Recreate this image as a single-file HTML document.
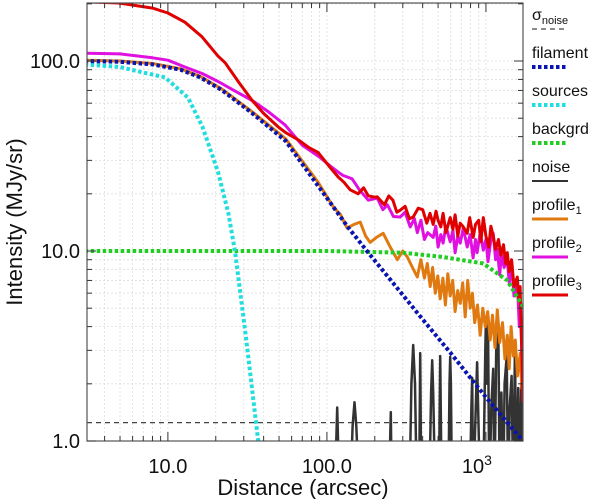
<!DOCTYPE html>
<html><head><meta charset="utf-8"><style>
body{margin:0;background:#fff;}
svg text{font-family:"Liberation Sans",sans-serif;fill:#111;}
</style></head><body>
<svg id="chart" width="600" height="499" viewBox="0 0 600 499" xmlns="http://www.w3.org/2000/svg">
<defs><clipPath id="clip"><rect x="87" y="3" width="436" height="438"/></clipPath></defs>
<g id="grid"></g>
<g id="series" clip-path="url(#clip)"></g>
<rect x="87" y="3" width="436" height="438" fill="none" stroke="#555" stroke-width="1.2"/>
<g id="ticks"></g>
<text x="303" y="495" font-size="22" text-anchor="middle">Distance (arcsec)</text>
<text transform="translate(22,222) rotate(-90)" text-anchor="middle" font-size="22">Intensity (MJy/sr)</text>
<g id="legend"></g>
</svg>
<script>
const sigmaNoise = 1.25;
const filR = [3,5,8,12,16,22,34,55,88,136,182,260,388,600,1000,1710];
const filV = [100,99,96,90,82,70,53,38,22,13.3,9.8,6.8,4.5,2.9,1.7,1.0];
const srcR = [3,5,7,9.6,13.4,16.5,20.7,24,26.5,31,37,40];
const srcV = [96,93,87,82,64,45,26,15.8,9.8,3.5,1.0,0.6];
const bgR = [3,100,300,538,962,1360,1710];
const bgV = [10,10,9.8,9.3,8.6,7.0,5.1];
const noiseR = [100,112,116,120,140,145,149,153,160,245,252,256,262,330,340,349,358,368,380,386,392,400,440,452,459,466,480,505,516,527,540,580,590,596,602,612,790,810,820,830,880,920,960,990,1000,1019,1030,1050,1080,1111,1130,1160,1195,1220,1250,1284,1310,1350,1381,1410,1450,1486,1520,1560,1596,1630,1670,1692,1710];
const noiseV = [0.5,0.5,1.5,0.5,0.5,1.2,1.6,1.2,0.5,0.5,1.42,0.5,0.5,0.5,2.0,3.2,2.0,0.5,0.5,2.9,0.5,0.5,0.5,1.8,2.66,1.8,0.5,0.5,2.8,0.5,0.5,0.5,2.0,2.77,2.0,0.5,0.5,1.5,2.15,0.5,2.6,0.5,0.5,3.0,4.3,2.0,4.5,0.5,1.5,2.4,0.5,3.0,4.2,0.5,1.8,0.5,2.0,2.8,0.5,1.5,2.2,0.5,3.0,0.5,1.9,0.5,2.4,0.5,1.3];
const p1R = [3,5,8,12,16,22,34,55,88,110,122,134,148,162,175,187,205,226,250,277,300,320,345,370,390,410,428,446,462,480,498,516,536,556,576,596,618,640,664,689,714,740,768,796,822,850,885,920,955,990,1025,1063,1100,1140,1178,1220,1270,1315,1362,1400,1440,1486,1530,1580,1644,1680,1710];
const p1V = [101,100,97,91,83,71,54,39,23,17,15.5,13.2,13.8,14.2,12.0,11.1,11.8,12.4,10.5,9.0,10.0,9.3,8.2,7.3,9.0,7.2,8.6,6.5,8.2,6.0,7.4,5.6,7.2,5.2,7.6,5.8,7.0,4.8,6.2,5.3,6.8,4.5,7.0,5.0,6.0,4.2,5.2,3.6,5.0,4.0,4.8,3.4,4.6,3.1,4.9,3.3,4.2,2.7,3.6,2.4,4.0,2.8,3.4,2.2,2.9,1.9,2.4];
const p2R = [3,5,8,10,12.8,16.4,20.7,26,33.9,43,54.7,70,91,105,118,126,135,144,160,182,207,225,240,262,289,310,334,355,370,390,410,430,466,484,500,520,538,560,596,620,640,665,689,720,762,795,830,860,880,920,962,1000,1030,1070,1111,1150,1180,1220,1250,1300,1362,1400,1450,1500,1574,1620,1650,1690,1710];
const p2V = [110,109,104,101,93,86,78,70,62,54,46,36,31,28,26,25,24.5,24,21,18.5,19,16.5,17.5,15.2,15.1,16,13.4,14.8,12.5,14.5,11.5,12.5,11.8,13.5,10.5,12.2,11.0,13.5,11.2,12.8,9.8,12.0,11.0,13.2,10.5,12.2,9.2,11.5,9.8,12.5,10.1,11.5,8.8,11.2,12.4,9.0,10.2,7.5,9.6,8.2,9.0,6.8,8.4,5.8,7.0,4.0,5.0,2.5,1.6];
const p3R = [3,4.9,8,10,12.8,16.4,20.7,22.9,28,33.9,40,49.4,55,66,77,88,103,118,128,140,157,170,182,201,207,230,245,260,275,289,310,330,349,375,400,425,445,466,485,500,520,538,560,596,620,640,665,689,715,762,790,832,860,900,930,962,1000,1040,1075,1111,1150,1200,1240,1290,1330,1362,1400,1450,1500,1574,1610,1640,1680,1710];
const p3V = [205,202,190,179,160,134,106,98,77,62,53,45,42,38.5,35,33,28,24.5,23,21,20,21.5,19.5,19.2,19.3,17.5,19.5,18.5,16.0,16.4,17.2,14.8,15.1,16.8,16.5,14.0,15.8,13.8,16.2,14.5,13.4,15.8,12.5,15.0,13.0,15.5,12.0,14.0,13.5,12.4,15.0,11.8,13.8,14.5,11.2,15.0,12.0,10.5,13.5,12.0,10.2,11.5,9.5,10.8,8.6,9.8,7.8,9.0,6.5,7.3,5.5,6.5,3.0,1.6];
const xTickLabels = ["10.0","100.0"];
const yTickLabels = ["1.0","10.0","100.0"];

const NS="http://www.w3.org/2000/svg";
const X0=87,X1=523,Y0=441,Y1=3;
const lxMin=Math.log10(3.1),lxMax=Math.log10(1710);
const lyMin=0,lyMax=Math.log10(202);
function xs(r){return X0+(Math.log10(r)-lxMin)/(lxMax-lxMin)*(X1-X0);}
function ys(v){return Y0-(Math.log10(v)-lyMin)/(lyMax-lyMin)*(Y0-Y1);}
function mk(tag,attrs,parent){const e=document.createElementNS(NS,tag);for(const k in attrs)e.setAttribute(k,attrs[k]);parent.appendChild(e);return e;}
const grid=document.getElementById('grid'),ticks=document.getElementById('ticks'),series=document.getElementById('series'),legend=document.getElementById('legend');

for(let d=1;d<=1000;d*=10){for(let m=1;m<10;m++){const r=d*m;if(r<3.1||r>1710)continue;const x=xs(r);
 const g=mk('line',{x1:x,x2:x,y1:Y1,y2:Y0,stroke:'#ddd','stroke-width':0.8,'stroke-dasharray':'2 2'},grid);
 
 
 const L=m===1?9:5;
 const t1=mk('line',{x1:x,x2:x,y1:Y0,y2:Y0-L,stroke:'#333','stroke-width':1},ticks);
 
 
 const t2=mk('line',{x1:x,x2:x,y1:Y1,y2:Y1+L,stroke:'#333','stroke-width':1},ticks);
 
 
}}
for(let d=1;d<=100;d*=10){for(let m=1;m<10;m++){const v=d*m;if(v>202)continue;const y=ys(v);
 const g=mk('line',{x1:X0,x2:X1,y1:y,y2:y,stroke:'#ddd','stroke-width':0.8,'stroke-dasharray':'2 2'},grid);
 
 
 const L=m===1?9:5;
 const t1=mk('line',{x1:X0,x2:X0+L,y1:y,y2:y,stroke:'#333','stroke-width':1},ticks);
 
 
 const t2=mk('line',{x1:X1,x2:X1-L,y1:y,y2:y,stroke:'#333','stroke-width':1},ticks);
 
 
}}
xTickLabels.forEach((s,i)=>{const t=mk('text',{x:xs(Math.pow(10,i+1)),y:473,'font-size':20,'text-anchor':'middle'},ticks);t.textContent=s;
 
 });
const t3=mk('text',{x:xs(1000)-9,y:473,'font-size':20,'text-anchor':'middle'},ticks);t3.innerHTML='10<tspan dy="-8" font-size="14">3</tspan>';


yTickLabels.forEach((s,i)=>{const t=mk('text',{x:80,y:ys(Math.pow(10,i))+7,'font-size':20,'text-anchor':'end'},ticks);t.textContent=s;
 
 });

function path(R,V){return R.map((r,i)=>(i?'L':'M')+xs(r).toFixed(1)+','+ys(V[i]).toFixed(1)).join('');}
const sn=mk('line',{x1:X0,x2:X1,y1:ys(sigmaNoise),y2:ys(sigmaNoise),stroke:'#444','stroke-width':1.2,'stroke-dasharray':'5 4'},series);


const nz=mk('path',{d:path(noiseR,noiseV),fill:'none',stroke:'#333','stroke-width':2.5,'stroke-linejoin':'round'},series);


const s1=mk('path',{d:path(p1R,p1V),fill:'none',stroke:'#e07a10','stroke-width':3,'stroke-linejoin':'round'},series);


const s2=mk('path',{d:path(p2R,p2V),fill:'none',stroke:'#e010e0','stroke-width':3,'stroke-linejoin':'round'},series);


const s3=mk('path',{d:path(p3R,p3V),fill:'none',stroke:'#e00000','stroke-width':3,'stroke-linejoin':'round'},series);


const sb=mk('path',{d:path(bgR,bgV),fill:'none',stroke:'#22cc22','stroke-width':4,'stroke-dasharray':'3.5 2.5'},series);


const ss=mk('path',{d:path(srcR,srcV),fill:'none',stroke:'#22dddd','stroke-width':4,'stroke-dasharray':'3.5 2.5'},series);


const sf=mk('path',{d:path(filR,filV),fill:'none',stroke:'#0a14b0','stroke-width':4,'stroke-dasharray':'3.5 2.5'},series);



const legItems=[
 ['σ','noise','#444','5 4',1.2,'legend-sigma-noise'],
 ['filament','','#0a14b0','3.5 2.5',4,'legend-filament'],
 ['sources','','#22dddd','3.5 2.5',4,'legend-sources'],
 ['backgrd','','#22cc22','3.5 2.5',4,'legend-background'],
 ['noise','','#333','',2,'legend-noise'],
 ['profile','1','#e07a10','',3,'legend-profile1'],
 ['profile','2','#e010e0','',3,'legend-profile2'],
 ['profile','3','#e00000','',3,'legend-profile3']];
legItems.forEach((it,i)=>{const y=20+i*38;
 const g=mk('g',{},legend);
 
 
 const t=mk('text',{x:532,y:y,'font-size':16},g);
 if(it[1]){t.innerHTML=it[0]+'<tspan dy="4" font-size="11">'+it[1]+'</tspan>';}else t.textContent=it[0];
 const l=mk('line',{x1:532,x2:568,y1:y+9,y2:y+9,stroke:it[2],'stroke-width':it[4]},g);
 if(it[3])l.setAttribute('stroke-dasharray',it[3]);
});
</script>
</body></html>
